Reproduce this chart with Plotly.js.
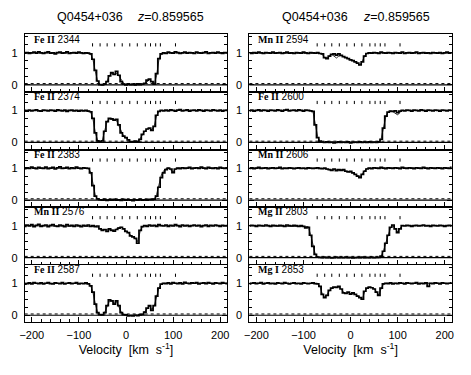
<!DOCTYPE html>
<html><head><meta charset="utf-8">
<script src="https://cdn.plot.ly/plotly-3.0.1.min.js"></script>
<style>body{margin:0;background:#fff}#chart{width:471px;height:375px}</style>
</head><body><div id="chart"></div>
<script>
const quasarName = 'Q0454+036';
const redshift = '0.859565';
const velocity = [-215,-210,-205,-200,-195,-190,-185,-180,-175,-170,-165,-160,-155,-150,-145,-140,-135,-130,-125,-120,-115,-110,-105,-100,-95,-90,-85,-80,-75,-70,-65,-60,-55,-50,-45,-40,-35,-30,-25,-20,-15,-10,-5,0,5,10,15,20,25,30,35,40,45,50,55,60,65,70,75,80,85,90,95,100,105,110,115,120,125,130,135,140,145,150,155,160,165,170,175,180,185,190,195,200,205,210,215];
const velocityTicks = [-200,-100,0,100,200];
const componentV = [-71,-55,-40,-24,-8,8,24,41,52,63,73,105];
const errorLevel = 0.04;

const fe2344 = [0.99,1.01,0.98,1.00,1.02,0.99,1.03,1.00,0.98,1.01, 1.03,0.99,1.00,0.97,1.01,1.02,0.99,1.00,1.03,0.98, 1.00,1.01,0.99,1.02,1.00,0.98,1.00,0.99,0.97,0.80, 0.45,0.12,0.01,0.00,0.02,0.10,0.28,0.38,0.33,0.42, 0.30,0.10,0.02,0.00,0.03,0.01,0.02,0.00,0.03,0.01, 0.02,0.05,0.15,0.18,0.10,0.02,0.35,0.82,0.97,1.00, 0.98,1.02,1.00,0.99,1.03,1.01,0.98,1.00,1.02,0.99, 1.01,1.00,0.98,1.02,1.00,0.99,1.01,1.03,0.98,1.00, 1.01,0.99,1.02,1.00,0.98,1.01,1.00];
const fe2374 = [1.00,0.98,1.01,0.99,1.00,1.02,0.99,0.98,1.01,1.00, 0.99,1.01,1.00,0.98,1.02,1.00,0.99,1.01,0.97,1.00, 1.01,0.99,1.00,0.98,1.00,0.99,1.00,0.98,0.96,0.75, 0.30,0.05,0.02,0.05,0.35,0.65,0.75,0.74,0.70,0.72, 0.55,0.30,0.20,0.15,0.08,0.03,0.02,0.04,0.02,0.10, 0.25,0.35,0.42,0.45,0.38,0.50,0.85,0.97,1.00,0.99, 1.01,0.99,1.02,1.00,0.98,1.01,1.03,0.99,1.00,1.02, 0.98,1.00,1.01,0.99,1.02,1.00,0.98,1.01,1.00,0.99, 1.02,1.00,0.99,1.01,0.98,1.00,1.01];
const fe2383 = [0.98,1.01,0.99,1.03,1.00,0.98,1.02,1.00,0.99,1.03, 0.98,1.00,1.02,0.97,1.01,1.04,0.99,1.00,1.02,0.98, 1.01,0.99,1.03,1.00,0.98,1.01,1.00,0.99,0.85,0.45, 0.12,0.04,0.01,0.00,0.02,-0.01,0.01,0.00,0.02,0.00, 0.01,-0.01,0.02,0.00,0.01,0.00,-0.02,0.01,0.00,0.02, 0.00,0.01,0.00,0.02,0.01,0.03,0.12,0.40,0.70,0.85, 0.95,1.00,0.97,0.86,0.97,1.00,0.98,1.01,0.99,1.00, 1.02,0.98,1.00,1.01,0.99,1.03,1.00,0.98,1.02,1.00, 0.99,1.01,0.98,1.02,1.00,0.99,1.01];
const mn2576 = [0.98,1.02,0.99,1.03,0.97,1.01,1.04,0.98,1.00,1.02, 0.97,1.01,1.03,0.99,0.98,1.02,1.00,0.97,1.03,0.99, 1.01,0.98,1.02,1.00,0.97,1.01,0.99,1.02,0.98,1.00, 0.97,0.99,0.90,0.85,0.88,0.82,0.90,0.85,0.83,0.88, 0.92,0.95,0.90,0.82,0.78,0.68,0.65,0.60,0.45,0.85, 0.97,1.00,0.98,1.02,0.99,1.01,0.98,1.03,1.00,0.99, 1.02,0.98,1.01,0.99,1.03,1.00,0.97,1.02,0.99,1.01, 0.98,1.00,1.02,0.99,1.01,0.97,1.00,1.02,0.98,1.01, 0.99,1.02,1.00,0.98,1.01,0.99,1.00];
const fe2587 = [0.97,0.99,1.01,0.98,1.02,1.00,0.99,1.01,0.98,1.00, 1.02,0.99,0.98,1.01,1.00,0.99,1.02,0.98,1.00,1.01, 0.99,1.00,1.02,0.98,1.00,0.99,1.01,0.98,0.92,0.72, 0.35,0.08,0.02,0.01,0.08,0.30,0.48,0.45,0.35,0.45, 0.30,0.08,0.02,0.01,-0.02,-0.01,-0.02,0.00,-0.01,0.01, 0.03,0.10,0.22,0.30,0.15,0.30,0.60,0.85,0.97,1.00, 0.99,1.01,0.98,1.02,1.00,0.99,1.01,0.98,1.03,1.00, 0.99,1.01,1.00,1.02,0.98,1.00,1.01,0.99,1.02,1.00, 0.98,1.01,1.00,0.99,1.02,1.00,0.99];
const mn2594 = [1.00,0.98,1.01,0.99,1.02,1.00,0.98,1.01,1.00,0.99, 1.02,0.99,1.00,1.01,0.98,1.00,1.02,0.99,1.00,0.98, 1.01,1.00,0.99,1.02,1.00,0.98,1.01,1.00,0.99,1.01, 0.98,0.97,0.85,0.82,0.90,0.95,0.97,0.93,0.97,0.92, 0.88,0.85,0.82,0.78,0.76,0.72,0.68,0.62,0.72,0.90, 0.98,1.00,0.99,1.01,1.00,0.98,1.02,1.00,0.99,1.01, 1.00,0.98,1.01,1.00,0.99,1.02,0.98,1.00,1.01,0.99, 1.00,1.02,0.98,1.00,1.01,0.99,1.00,0.98,1.01,1.00, 0.99,1.01,0.98,1.00,1.02,0.99,1.00];
const fe2600 = [0.99,1.01,0.98,1.00,1.02,0.99,1.01,1.00,0.98,1.01, 1.00,0.99,1.02,1.00,0.98,1.01,1.03,0.99,1.00,1.01, 0.99,1.02,1.00,0.98,1.01,1.00,0.99,0.97,0.55,0.15, 0.04,0.01,0.00,0.02,0.00,0.01,-0.01,0.00,0.02,0.00, 0.01,0.00,0.02,-0.01,0.00,0.01,0.00,0.02,0.00,0.01, 0.00,0.02,0.00,0.01,0.00,0.02,0.10,0.45,0.82,0.95, 0.98,0.97,0.99,0.93,0.98,1.00,0.99,1.01,1.00,0.98, 1.01,1.00,0.99,1.02,1.00,0.98,1.01,1.00,0.99,1.01, 1.00,0.98,1.01,1.00,0.99,1.01,1.00];
const mn2606 = [0.99,1.01,0.98,1.00,1.02,0.99,1.00,1.01,0.98,1.00, 1.01,0.99,1.00,1.02,0.98,1.00,0.99,1.01,1.00,0.98, 1.00,1.01,0.99,1.00,0.98,1.01,1.00,0.99,1.00,1.01, 0.99,0.98,1.00,0.97,0.95,0.93,0.97,0.92,0.95,0.93, 0.95,0.90,0.88,0.90,0.85,0.80,0.75,0.70,0.80,0.90, 0.97,1.00,0.98,1.01,1.00,0.99,1.02,1.00,0.98,1.01, 1.00,0.99,1.01,1.00,0.98,1.02,1.00,0.99,1.01,1.00, 0.98,1.01,1.00,0.99,1.02,1.00,0.98,1.01,1.00,0.99, 1.01,1.00,0.98,1.01,1.00,0.99,1.02];
const mg2803 = [0.99,1.01,1.00,0.98,1.01,1.00,0.99,1.02,1.00,0.98, 1.01,1.00,0.99,1.01,1.00,0.98,1.02,1.00,0.99,1.01, 1.00,0.98,1.00,0.98,0.93,0.95,0.70,0.35,0.10,0.02, 0.01,0.00,0.02,0.00,0.01,-0.01,0.00,0.02,0.00,0.01, 0.00,0.02,0.00,0.01,-0.01,0.00,0.01,0.00,0.02,0.00, 0.01,0.00,0.02,0.00,0.01,0.01,0.05,0.20,0.45,0.70, 0.95,1.02,0.90,0.78,0.90,1.00,0.99,1.01,1.00,0.98, 1.00,1.01,0.99,1.00,1.02,0.99,1.00,0.98,1.01,1.00, 0.99,1.01,1.00,0.98,1.00,1.01,0.99];
const mg2853 = [0.98,1.00,1.01,0.99,1.00,1.02,0.98,1.00,1.01,0.99, 1.00,0.98,1.01,1.00,0.99,1.02,1.00,0.98,1.00,1.01, 0.99,1.00,0.98,1.01,1.00,0.99,1.00,1.01,0.99,0.98, 0.90,0.65,0.55,0.62,0.78,0.85,0.88,0.87,0.90,0.82, 0.70,0.68,0.72,0.66,0.70,0.65,0.60,0.55,0.50,0.75, 0.85,0.88,0.86,0.82,0.72,0.62,0.85,0.98,1.00,0.99, 1.01,0.98,1.00,0.99,1.01,1.00,0.98,1.01,1.00,0.99, 1.00,1.02,0.98,1.00,0.99,1.01,0.90,1.00,0.99,1.01, 1.00,0.98,1.01,1.00,0.99,1.00,1.01];

// model fits (thin lines)
const modelV = [-215,-90,-85,-80,-75,-70,-65,-60,-55,-50,-45,-40,-35,-30,-25,-20,-15,-10,-5,0,5,10,15,20,25,30,35,40,45,50,55,60,65,70,75,80,85,90,95,100,105,110,215];
const fe2344Fit = [1,1,1,1,0.97,0.78,0.42,0.10,0.01,0,0.02,0.12,0.30,0.36,0.32,0.36,0.28,0.15,0.05,0.01,0,0,0,0,0,0.01,0.02,0.04,0.10,0.16,0.10,0.03,0.30,0.80,0.97,1,1,1,1,1,1,1,1];
const fe2374Fit = [1,1,1,0.99,0.95,0.72,0.30,0.06,0.03,0.08,0.38,0.66,0.74,0.73,0.70,0.68,0.52,0.32,0.20,0.13,0.07,0.03,0.02,0.03,0.04,0.12,0.26,0.36,0.42,0.44,0.40,0.52,0.84,0.97,1,1,1,1,1,1,1,1,1];
const fe2383Fit = [1,1,1,0.99,0.88,0.50,0.14,0.02,0,0,0,0,0,0,0,0,0,0,0,0,0,0,0,0,0,0,0,0,0,0,0,0.02,0.18,0.50,0.78,0.92,0.98,1,0.95,0.88,0.96,1,1];
const mn2576Fit = [1,1,1,1,1,1,0.98,0.95,0.90,0.88,0.88,0.86,0.88,0.87,0.86,0.90,0.94,0.95,0.90,0.84,0.78,0.70,0.66,0.60,0.50,0.82,0.97,1,1,1,1,1,1,1,1,1,1,1,1,1,1,1,1];
const fe2587Fit = [1,1,1,0.99,0.93,0.70,0.35,0.08,0.01,0.01,0.10,0.30,0.45,0.44,0.38,0.42,0.28,0.10,0.02,0,0,0,0,0,0,0.01,0.03,0.10,0.20,0.28,0.18,0.30,0.62,0.86,0.97,1,1,1,1,1,1,1,1];
const mn2594Fit = [1,1,1,1,1,1,0.99,0.95,0.84,0.84,0.92,0.95,0.90,0.84,0.90,0.92,0.88,0.85,0.82,0.79,0.76,0.72,0.67,0.62,0.74,0.92,0.99,1,1,1,1,1,1,1,1,1,1,1,1,1,1,1,1];
const fe2600Fit = [1,1,1,0.97,0.60,0.18,0.03,0,0,0,0,0,0,0,0,0,0,0,0,0,0,0,0,0,0,0,0,0,0,0,0,0.01,0.12,0.48,0.82,0.95,0.98,0.96,0.90,0.86,0.95,1,1];
const mn2606Fit = [1,1,1,1,1,1,1,0.99,0.98,0.96,0.95,0.94,0.96,0.94,0.93,0.95,0.94,0.91,0.89,0.88,0.85,0.80,0.75,0.72,0.82,0.93,0.99,1,1,1,1,1,1,1,1,1,1,1,1,1,1,1,1];
const mg2803Fit = [1,0.97,0.72,0.36,0.10,0.02,0,0,0,0,0,0,0,0,0,0,0,0,0,0,0,0,0,0,0,0,0,0,0,0,0,0,0.05,0.22,0.47,0.72,0.94,1,0.90,0.80,0.92,1,1];
const mg2853Fit = [1,1,1,1,1,0.99,0.90,0.66,0.56,0.64,0.78,0.85,0.87,0.87,0.88,0.82,0.72,0.69,0.70,0.68,0.68,0.65,0.60,0.55,0.52,0.74,0.85,0.87,0.87,0.84,0.74,0.63,0.84,0.98,1,1,1,1,1,1,1,1,1];

const panelData = [fe2344, fe2374, fe2383, mn2576, fe2587, mn2594, fe2600, mn2606, mg2803, mg2853];
const panelFits = [fe2344Fit, fe2374Fit, fe2383Fit, mn2576Fit, fe2587Fit, mn2594Fit, fe2600Fit, mn2606Fit, mg2803Fit, mg2853Fit];
const elements = ['Fe II','Fe II','Fe II','Mn II','Fe II','Mn II','Fe II','Mn II','Mg II','Mg I'];
const wavelengths = ['2344','2374','2383','2576','2587','2594','2600','2606','2803','2853'];

const W = 471, H = 375;
const colPx = [[24.7, 227.3], [249.4, 451.8]];
const titleSplitPx = [[125, 135], [350, 361]];
const topPx = 34.3, panelH = 57.6;
const yRange = [-0.22, 1.58];
const FONT = 'Liberation Sans, Arial, sans-serif';

const layout = {
  width: W, height: H, margin: {l:0, r:0, t:0, b:0},
  paper_bgcolor: 'white', plot_bgcolor: 'white', showlegend: false,
  font: {family: FONT, size: 11, color: 'black'},
  shapes: [], annotations: []
};
const traces = [];

const compX = [], compY = [];
componentV.forEach(v => { compX.push(v, v, null); compY.push(1.2, 1.3, null); });

panelData.forEach((data, k) => {
  const c = Math.floor(k / 5), r = k % 5, n = k + 1;
  const xs = n === 1 ? '' : String(n);
  const top = topPx + panelH * r;
  const xa = {
    domain: [colPx[c][0] / W, colPx[c][1] / W], range: [-215, 215], anchor: 'y' + xs,
    tickmode: 'array', tickvals: velocityTicks, ticks: 'inside', ticklen: 5, tickcolor: 'black', tickwidth: 1,
    minor: {dtick: 20, tick0: 0, ticks: 'inside', ticklen: 3, tickcolor: 'black'},
    showline: true, linecolor: 'black', linewidth: 1, mirror: true,
    showgrid: false, zeroline: false, showticklabels: r === 4,
    tickfont: {size: 11}, ticklabelstandoff: 2
  };
  if (r === 4) xa.title = {text: 'Velocity  [km  s<sup>-1</sup>]', font: {size: 12.5}, standoff: 5};
  layout['xaxis' + xs] = xa;
  layout['yaxis' + xs] = {
    domain: [1 - (top + panelH) / H, 1 - top / H], range: yRange, anchor: 'x' + xs,
    tickmode: 'array', tickvals: [0, 1], ticks: 'inside', ticklen: 5, tickcolor: 'black',
    minor: {tickvals: [-0.25, 0.25, 0.5, 0.75, 1.25, 1.5], ticks: 'inside', ticklen: 3, tickcolor: 'black'},
    showline: true, linecolor: 'black', linewidth: 1, mirror: 'ticks',
    showgrid: false, zeroline: false, tickfont: {size: 11}, ticklabelstandoff: 4
  };
  layout.shapes.push({type: 'line', xref: 'x' + xs + ' domain', yref: 'y' + xs, x0: 0, x1: 1, y0: 0, y1: 0,
    line: {color: 'black', width: 1.2}});
  layout.shapes.push({type: 'line', xref: 'x' + xs + ' domain', yref: 'y' + xs, x0: 0, x1: 1, y0: errorLevel, y1: errorLevel,
    line: {color: 'black', width: 1, dash: 'dot'}});
  traces.push({x: modelV, y: panelFits[k], xaxis: 'x' + xs, yaxis: 'y' + xs, type: 'scatter', mode: 'lines',
    line: {color: 'black', width: 0.8}, hoverinfo: 'skip'});
  traces.push({x: velocity, y: data, xaxis: 'x' + xs, yaxis: 'y' + xs, type: 'scatter', mode: 'lines',
    line: {color: 'black', width: 1.7, shape: 'hvh'}, hoverinfo: 'skip'});
  traces.push({x: compX, y: compY, xaxis: 'x' + xs, yaxis: 'y' + xs, type: 'scatter', mode: 'lines',
    line: {color: 'black', width: 1}, hoverinfo: 'skip', connectgaps: false});
  layout.annotations.push({xref: 'x' + xs, yref: 'y' + xs, x: -200, y: 1.43, xanchor: 'left', yanchor: 'middle',
    showarrow: false, font: {size: 10, family: FONT},
    text: '<b><span style="font-family:Liberation Serif">' + elements[k] + '</span></b> ' + wavelengths[k]});
});

[0, 1].forEach(c => {
  layout.annotations.push({xref: 'paper', yref: 'paper', x: titleSplitPx[c][0] / W, y: 1 - 16.5 / H,
    xanchor: 'right', yanchor: 'middle', showarrow: false, font: {size: 12.5, family: FONT},
    text: quasarName});
  layout.annotations.push({xref: 'paper', yref: 'paper', x: titleSplitPx[c][1] / W, y: 1 - 16.5 / H,
    xanchor: 'left', yanchor: 'middle', showarrow: false, font: {size: 12.5, family: FONT},
    text: '<i>z</i>=' + redshift});
});

Plotly.newPlot('chart', traces, layout, {staticPlot: true, displayModeBar: false});
</script>
</body></html>
